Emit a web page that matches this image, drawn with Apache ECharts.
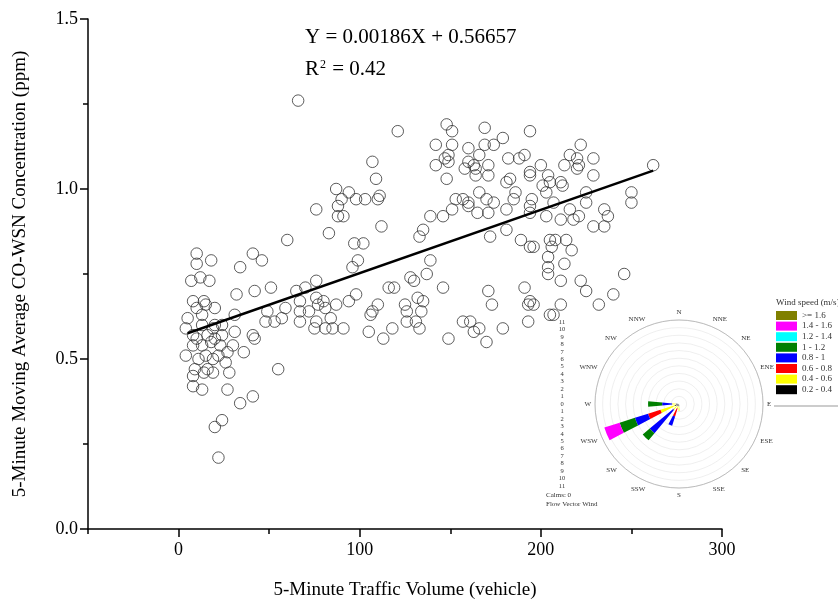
<!DOCTYPE html>
<html>
<head>
<meta charset="utf-8">
<script src="https://cdn.jsdelivr.net/npm/echarts@6/dist/echarts.min.js"></script>
<style>
  html, body { margin: 0; padding: 0; background: #fff; }
  #chart { width: 838px; height: 606px; }
</style>
</head>
<body>
<div id="chart"></div>
<script>
// traffic volume (vehicle) vs CO concentration (ppm)
var trafficVolume = [
  66, 87, 88, 88, 76, 83, 60, 10, 10, 18, 34, 41, 46, 7, 12, 17, 76, 70, 65, 42,
  51, 32, 8, 14, 10, 15, 20, 5, 13, 13, 20, 24, 31, 49, 59, 48, 53, 57, 67, 67,
  67, 72, 76, 77, 81, 80, 87, 76, 81, 85, 84, 75, 91, 8, 16, 24, 31, 41, 42, 8,
  13, 18, 23, 30, 36, 15, 22, 27, 19, 9, 14, 19, 28, 55, 8, 13, 27, 34, 41, 24,
  20, 22, 4, 10, 19, 4, 11, 26, 20, 8, 16,
  121, 148, 151, 169, 142, 151, 160, 169, 174, 179, 147, 149, 149, 142, 166, 182, 158, 160, 163, 164,
  164, 171, 171, 181, 107, 109, 94, 90, 98, 103, 110, 111, 91, 148, 153, 157, 160, 160, 166, 170,
  174, 165, 171, 181, 151, 139, 146, 112, 135, 133, 172, 181, 97, 102, 99, 96, 139, 137, 128, 130,
  116, 119, 146, 171, 98, 94, 132, 110, 106, 107, 105, 113, 118, 125, 126, 126, 131, 135, 134, 133,
  149, 157, 161, 163, 166, 170, 173, 179,
  194, 188, 191, 222, 216, 220, 229, 213, 221, 220, 200, 194, 194, 204, 205, 201, 211, 212, 229, 262,
  183, 186, 185, 195, 194, 203, 207, 194, 225, 225, 250, 250, 216, 221, 218, 211, 203, 235, 237, 229,
  235, 189, 194, 196, 205, 208, 214, 206, 217, 204, 204, 204, 213, 211, 222, 225, 246, 191, 193, 196,
  194, 211, 232, 240, 205, 207, 193
];
var coConc = [
  1.26, 1.00, 0.95, 0.92, 0.94, 0.87, 0.85, 0.81, 0.78, 0.79, 0.77, 0.81, 0.79, 0.73, 0.74, 0.73, 0.73, 0.71, 0.70, 0.70,
  0.71, 0.69, 0.67, 0.67, 0.65, 0.66, 0.65, 0.62, 0.63, 0.60, 0.60, 0.60, 0.63, 0.64, 0.65, 0.61, 0.61, 0.62, 0.67, 0.64,
  0.61, 0.64, 0.68, 0.66, 0.65, 0.67, 0.66, 0.61, 0.59, 0.59, 0.62, 0.59, 0.59, 0.57, 0.57, 0.57, 0.58, 0.57, 0.56, 0.54,
  0.54, 0.55, 0.54, 0.54, 0.52, 0.51, 0.51, 0.52, 0.50, 0.47, 0.46, 0.46, 0.46, 0.47, 0.42, 0.41, 0.41, 0.37, 0.39, 0.32,
  0.30, 0.21, 0.59, 0.56, 0.59, 0.51, 0.50, 0.49, 0.56, 0.45, 0.47,
  1.17, 1.19, 1.17, 1.18, 1.13, 1.13, 1.12, 1.13, 1.13, 1.15, 1.09, 1.10, 1.08, 1.07, 1.10, 1.09, 1.06, 1.08, 1.07, 1.06,
  1.04, 1.07, 1.04, 1.02, 1.08, 1.03, 0.99, 0.97, 0.97, 0.97, 0.97, 0.98, 0.92, 1.03, 0.97, 0.97, 0.96, 0.95, 0.99, 0.97,
  0.96, 0.93, 0.93, 0.94, 0.94, 0.92, 0.92, 0.89, 0.88, 0.86, 0.86, 0.88, 0.84, 0.84, 0.79, 0.77, 0.79, 0.75, 0.74, 0.73,
  0.71, 0.71, 0.71, 0.70, 0.69, 0.67, 0.68, 0.66, 0.63, 0.64, 0.58, 0.56, 0.59, 0.66, 0.64, 0.61, 0.61, 0.67, 0.64, 0.59,
  0.56, 0.61, 0.61, 0.58, 0.59, 0.55, 0.66, 0.59,
  1.17, 1.09, 1.10, 1.13, 1.10, 1.09, 1.09, 1.07, 1.07, 1.06, 1.07, 1.05, 1.04, 1.04, 1.02, 1.01, 1.02, 1.01, 1.04, 1.07,
  1.03, 0.99, 0.97, 0.97, 0.95, 0.99, 0.96, 0.93, 0.99, 0.96, 0.99, 0.96, 0.94, 0.92, 0.91, 0.91, 0.92, 0.94, 0.92, 0.89,
  0.89, 0.85, 0.83, 0.83, 0.85, 0.85, 0.85, 0.83, 0.82, 0.80, 0.77, 0.75, 0.78, 0.73, 0.73, 0.70, 0.75, 0.71, 0.66, 0.66,
  0.67, 0.66, 0.66, 0.69, 0.63, 0.63, 0.61
];

// regression line Y = 0.00186X + 0.56657
var fitSlope = 0.00186;
var fitIntercept = 0.56657;
var fitRange = [5, 262];

var xTicks = [0, 100, 200, 300];
var yTicks = [0, 0.5, 1.0, 1.5];

// wind rose inset
var directions = ['N', 'NNE', 'NE', 'ENE', 'E', 'ESE', 'SE', 'SSE', 'S', 'SSW', 'SW', 'WSW', 'W', 'WNW', 'NW', 'NNW'];
var speedBins = ['0.2 - 0.4', '0.4 - 0.6', '0.6 - 0.8', '0.8 - 1', '1 - 1.2', '1.2 - 1.4', '1.4 - 1.6', '>= 1.6'];
var speedColors = ['#000000', '#ffff00', '#ff0000', '#0000ff', '#008000', '#00ffff', '#ff00ff', '#808000'];
//               N  NNE NE ENE E ESE SE SSE  S    SSW  SW   WSW   W    WNW NW NNW
var wind02 = [0, 0, 0, 0, 0, 0, 0, 0, 0.3, 0.3, 0.4, 0.6, 0.4, 0, 0, 0];
var wind04 = [0, 0, 0, 0, 0, 0, 0, 0, 0.6, 0.3, 0.6, 1.95, 0.5, 0, 0, 0];
var wind06 = [0, 0, 0, 0, 0, 0, 0, 0, 0, 1.1, 0, 1.7, 0, 0, 0, 0];
var wind08 = [0, 0, 0, 0, 0, 0, 0, 0, 0, 1.3, 4.0, 1.8, 1.3, 0, 0, 0];
var wind10 = [0, 0, 0, 0, 0, 0, 0, 0, 0, 0, 1.2, 2.1, 1.85, 0, 0, 0];
var wind12 = [0, 0, 0, 0, 0, 0, 0, 0, 0, 0, 0, 0, 0, 0, 0, 0];
var wind14 = [0, 0, 0, 0, 0, 0, 0, 0, 0, 0, 0, 2.1, 0, 0, 0, 0];
var wind16 = [0, 0, 0, 0, 0, 0, 0, 0, 0, 0, 0, 0, 0, 0, 0, 0];
var windSeries = [wind02, wind04, wind06, wind08, wind10, wind12, wind14, wind16];

var serif = 'Liberation Serif';
var chart = echarts.init(document.getElementById('chart'));

var points = trafficVolume.map(function (x, i) { return [x, coConc[i]]; });
var fitLine = fitRange.map(function (x) { return [x, fitSlope * x + fitIntercept]; });

var windBars = speedBins.map(function (name, i) {
    return {
        name: name,
        type: 'bar',
        coordinateSystem: 'polar',
        stack: 'wind',
        barCategoryGap: '55%',
        silent: true,
        itemStyle: { color: speedColors[i] },
        data: windSeries[i]
    };
});

chart.setOption({
    animation: false,
    backgroundColor: '#fff',
    title: {
        text: 'Wind speed (m/s)',
        left: 776,
        top: 298,
        padding: 0,
        textStyle: { fontFamily: serif, fontSize: 9, fontWeight: 'normal', color: '#333' }
    },
    legend: {
        orient: 'vertical',
        left: 776,
        top: 311,
        padding: 0,
        icon: 'rect',
        itemWidth: 21,
        itemHeight: 9,
        itemGap: 1.6,
        selectedMode: false,
        textStyle: { fontFamily: serif, fontSize: 9, color: '#333', lineHeight: 9 },
        data: speedBins.slice().reverse()
    },
    grid: [
        { left: 88, right: 116, top: 19, bottom: 77 },
        { left: 178.6, width: 543.4, top: 19, bottom: 77 },
        { left: 566, width: 1, top: 322, height: 164 }
    ],
    xAxis: [
        {
            gridIndex: 0, type: 'value', min: -50, max: 300, interval: 50,
            axisLine: { onZero: false, lineStyle: { color: '#000', width: 1.5 } },
            axisTick: { length: 5, lineStyle: { color: '#000', width: 1.5 } },
            axisLabel: { show: false },
            splitLine: { show: false },
            name: '5-Minute Traffic Volume (vehicle)',
            nameLocation: 'middle',
            nameGap: 52,
            nameTextStyle: { fontFamily: serif, fontSize: 19, color: '#000' }
        },
        {
            gridIndex: 1, type: 'value', min: xTicks[0], max: xTicks[xTicks.length - 1], interval: 100,
            axisLine: { show: false, onZero: false },
            axisTick: { length: 8, lineStyle: { color: '#000', width: 1.5 } },
            axisLabel: { fontFamily: serif, fontSize: 18, color: '#000', margin: 12 },
            splitLine: { show: false }
        },
        { gridIndex: 2, type: 'value', show: false, min: 0, max: 1 }
    ],
    yAxis: [
        {
            gridIndex: 0, type: 'value', min: yTicks[0], max: yTicks[yTicks.length - 1], interval: 0.5,
            axisLine: { show: true, onZero: false, lineStyle: { color: '#000', width: 1.5 } },
            axisTick: { show: true, length: 8, lineStyle: { color: '#000', width: 1.5 } },
            minorTick: { show: true, splitNumber: 2, length: 5, lineStyle: { color: '#000', width: 1.5 } },
            axisLabel: {
                fontFamily: serif, fontSize: 18, color: '#000', margin: 10,
                formatter: function (v) { return v.toFixed(1); }
            },
            splitLine: { show: false },
            name: '5-Minute Moving Average CO-WSN Concentration (ppm)',
            nameLocation: 'middle',
            nameGap: 58,
            nameTextStyle: { fontFamily: serif, fontSize: 19, color: '#000' }
        },
        { gridIndex: 1, type: 'value', show: false, min: 0, max: 1 },
        {
            gridIndex: 2, type: 'value', min: -11, max: 11, interval: 1,
            axisLine: { show: false, onZero: false },
            axisTick: { show: false },
            splitLine: { show: false },
            axisLabel: {
                fontFamily: serif, fontSize: 6.5, color: '#333', margin: 4, align: 'center',
                formatter: function (v) { return Math.abs(v); }
            }
        }
    ],
    polar: { center: [679, 404], radius: 84 },
    angleAxis: {
        type: 'category',
        data: directions,
        startAngle: 90 + 360 / 32,
        axisLine: { lineStyle: { color: '#b0b0b0', width: 0.8 } },
        axisTick: { show: false },
        splitLine: { show: false },
        axisLabel: { fontFamily: serif, fontSize: 7, color: '#333', margin: 4 }
    },
    radiusAxis: {
        min: 0, max: 11, interval: 1,
        axisLine: { show: false },
        axisTick: { show: false },
        axisLabel: { show: false },
        splitLine: { lineStyle: { color: '#e4e4e4', width: 0.6 } }
    },
    graphic: [
        { type: 'text', left: 305, top: 27, style: { text: 'Y = 0.00186X + 0.56657', font: '21px "Liberation Serif"', fill: '#000' } },
        {
            type: 'text', left: 305, top: 59,
            style: {
                text: '{b|R}{s|2}{b| = 0.42}',
                rich: {
                    b: { fontFamily: serif, fontSize: 21, color: '#000' },
                    s: { fontFamily: serif, fontSize: 12, color: '#000', verticalAlign: 'top', padding: [0, 1, 8, 1] }
                }
            }
        },
        { type: 'text', left: 546, top: 492, style: { text: 'Calms: 0', font: '7px "Liberation Serif"', fill: '#333' } },
        { type: 'text', left: 546, top: 501, style: { text: 'Flow Vector Wind', font: '7px "Liberation Serif"', fill: '#333' } },
        { type: 'line', shape: { x1: 774, y1: 406, x2: 838, y2: 406 }, style: { stroke: '#999', lineWidth: 1 } }
    ],
    series: [
        {
            type: 'scatter',
            xAxisIndex: 0, yAxisIndex: 0,
            symbol: 'circle',
            symbolSize: 11.5,
            itemStyle: { color: 'transparent', borderColor: '#333', borderWidth: 1 },
            data: points
        },
        {
            type: 'line',
            xAxisIndex: 0, yAxisIndex: 0,
            symbol: 'none',
            lineStyle: { color: '#000', width: 2.5 },
            data: fitLine
        }
    ].concat(windBars)
});
</script>
</body>
</html>
